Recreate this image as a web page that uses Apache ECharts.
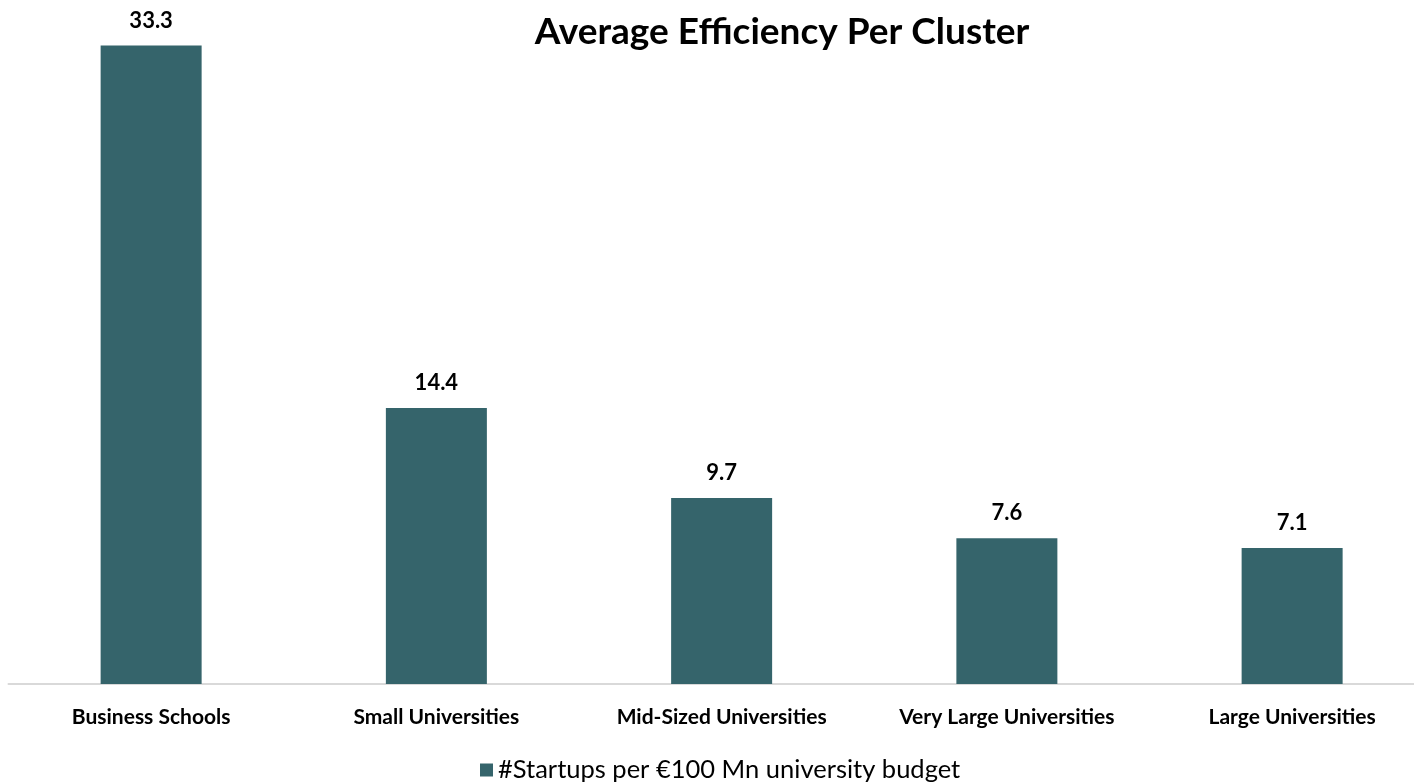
<!DOCTYPE html>
<html>
<head>
<meta charset="utf-8">
<script src="https://cdn.jsdelivr.net/npm/echarts@6/dist/echarts.min.js"></script>
<style>
  html, body { margin: 0; padding: 0; background: #fff; }
  #chart { width: 1414px; height: 784px; }
</style>
</head>
<body>
<div id="chart"></div>
<script>
  // categories and values
  const clusters = ['Business Schools', 'Small Universities', 'Mid-Sized Universities', 'Very Large Universities', 'Large Universities']
  const startupsPerBudget = [33.3, 14.4, 9.7, 7.6, 7.1]
  const seriesName = '#Startups per €100 Mn university budget'

  let myChart = echarts.init(document.getElementById('chart'))
  let option = {
    animation: false,
    title: {
      text: 'Average Efficiency Per Cluster',
      left: 777,
      top: 9,
      textAlign: 'center',
      textStyle: {
        fontFamily: 'Lato',
        fontWeight: 'bold',
        fontSize: 37,
        color: '#000'
      }
    },
    legend: {
      data: [seriesName],
      top: 752,
      left: 475,
      icon: 'rect',
      itemWidth: 13,
      itemHeight: 13,
      itemGap: 6,
      textStyle: {
        fontFamily: 'Lato',
        fontSize: 25.5,
        color: '#000'
      }
    },
    grid: {
      left: 8.5,
      width: 1426.25,
      top: 13,
      bottom: 100,
      outerBoundsMode: 'none',
      containLabel: false
    },
    xAxis: {
      type: 'category',
      data: clusters,
      axisTick: { show: false },
      axisLine: { lineStyle: { color: '#d9d9d9', width: 2 } },
      axisLabel: {
        margin: 23,
        fontFamily: 'Lato',
        fontWeight: 'bold',
        fontSize: 21,
        color: '#000'
      }
    },
    yAxis: {
      type: 'value',
      min: 0,
      max: 35,
      show: false,
      splitLine: { show: false }
    },
    series: [{
      name: seriesName,
      type: 'bar',
      barWidth: 101,
      color: '#35646b',
      label: {
        show: true,
        position: 'top',
        distance: 14,
        formatter: p => p.value.toFixed(1),
        fontFamily: 'Lato',
        fontWeight: 'bold',
        fontSize: 22,
        color: '#000'
      },
      data: startupsPerBudget
    }]
  }
  myChart.setOption(option)
</script>
</body>
</html>
